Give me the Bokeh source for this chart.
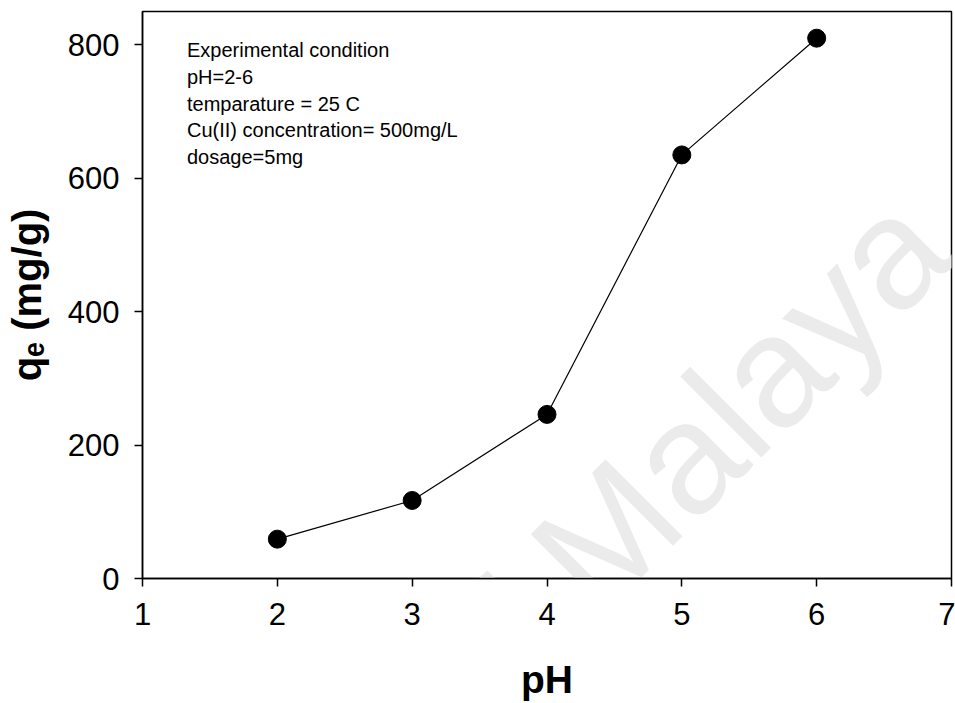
from bokeh.plotting import figure
from bokeh.models import Range1d, FixedTicker, Label
from bokeh.embed import file_html
from bokeh.resources import INLINE

# Adsorption capacity of Cu(II) versus solution pH
ph = [2, 3, 4, 5, 6]
qe = [59, 117, 246, 635, 810]

x_ticks = [1, 2, 3, 4, 5, 6, 7]
y_ticks = [0, 200, 400, 600, 800]

x_title = "pH"
y_title = "q\u2091 (mg/g)"

conditions = [
    "Experimental condition",
    "pH=2-6",
    "temparature = 25 C",
    "Cu(II) concentration= 500mg/L",
    "dosage=5mg",
]

X0, X1 = 1, 7
Y0, Y1 = 0, 850
W, H = 955, 703
LEFT, RIGHT, TOP, BOTTOM = 142, 4, 11, 125
FW = W - LEFT - RIGHT
FH = H - TOP - BOTTOM
FONT = "Liberation Sans"


def to_x(sx):
    """Canvas pixel column -> data x."""
    return X0 + (sx - LEFT) * (X1 - X0) / FW


def to_y(sy):
    """Canvas pixel row -> data y."""
    return Y0 + (TOP + FH - sy) * (Y1 - Y0) / FH


p = figure(
    width=W, height=H,
    x_range=Range1d(X0, X1), y_range=Range1d(Y0, Y1),
    output_backend="svg", toolbar_location=None,
    min_border_left=LEFT, min_border_right=RIGHT,
    min_border_top=TOP, min_border_bottom=BOTTOM,
)
p.grid.visible = False
p.background_fill_color = "white"
p.border_fill_color = "white"
p.outline_line_color = "black"
p.outline_line_width = 1.5

for ax in (p.xaxis[0], p.yaxis[0]):
    ax.axis_line_color = "black"
    ax.axis_line_width = 1.5
    ax.major_tick_line_color = "black"
    ax.major_tick_line_width = 1.5
    ax.major_tick_out = 8
    ax.major_tick_in = 0
    ax.minor_tick_out = 0
    ax.minor_tick_in = 0
    ax.major_label_text_font = FONT
    ax.major_label_text_font_size = "31px"
    ax.major_label_text_color = "black"
    ax.axis_label_text_font = FONT
    ax.axis_label_text_font_style = "bold"
    ax.axis_label_text_color = "black"

p.xaxis.ticker = FixedTicker(ticks=x_ticks)
p.yaxis.ticker = FixedTicker(ticks=y_ticks)
p.xaxis.major_label_standoff = 16
p.yaxis.major_label_standoff = 15

p.xaxis.axis_label = x_title
p.xaxis.axis_label_text_font_size = "39px"
p.xaxis.axis_label_standoff = 30
p.yaxis.axis_label = y_title
p.yaxis.axis_label_text_font_size = "40px"
p.yaxis.axis_label_standoff = 16

# faint repository watermark behind the data
p.add_layout(Label(
    x=to_x(435), y=to_y(705), text="of Malaya",
    angle=45, angle_units="deg",
    text_font=FONT, text_font_size="158px", text_color="#ebebeb",
    text_align="left", text_baseline="alphabetic", level="underlay",
))

p.line(ph, qe, line_color="black", line_width=1.2)
p.scatter(ph, qe, size=18, fill_color="black", line_color="black")

# experimental conditions block
for i, line in enumerate(conditions):
    p.add_layout(Label(
        x=to_x(186.5), y=to_y(49.3 + 26.85 * i), text=line,
        text_font=FONT, text_font_size="20px", text_color="black",
        text_align="left", text_baseline="alphabetic",
    ))

open("out.html", "w").write(file_html(p, INLINE))
